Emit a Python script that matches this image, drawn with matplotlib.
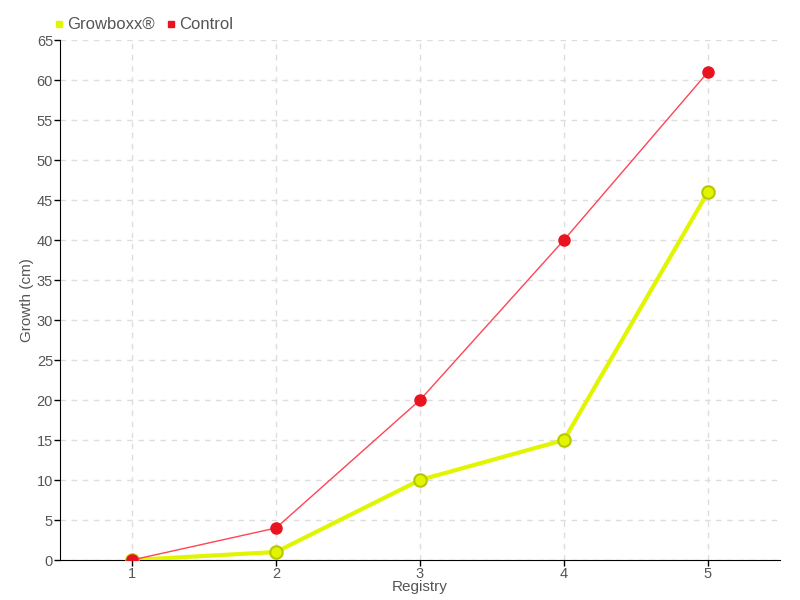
import matplotlib.pyplot as plt
from matplotlib.lines import Line2D

registry = [1, 2, 3, 4, 5]
growboxx = [0, 1, 10, 15, 46]
control = [0, 4, 20, 40, 61]
series_names = ["Growboxx®", "Control"]

plt.rcParams['font.family'] = ['Liberation Sans', 'DejaVu Sans']
txt = '#555555'

fig = plt.figure(figsize=(8, 6), dpi=100)
ax = fig.add_axes([60 / 800, 40 / 600, 720 / 800, 520 / 600])

ax.plot(registry, growboxx, color='#e2f500', lw=3, marker='o', ms=9,
        mfc='#e2f500', mec='#b8c800', mew=1.5, zorder=3)
ax.plot(registry, control, color='#ff4455', lw=1, marker='o', ms=8,
        mfc='#e8141f', mec='#e8141f', zorder=4)

ax.set_xlim(0.5, 5.5)
ax.set_ylim(0, 65)
ax.set_xticks(registry)
ax.set_yticks(range(0, 66, 5))
ax.grid(True, color='#dddddd', ls=(0, (4, 4)), lw=1)
ax.set_axisbelow(True)
for s in ['top', 'right']:
    ax.spines[s].set_visible(False)
ax.spines['left'].set_color('black')
ax.spines['bottom'].set_color('black')
ax.tick_params(labelcolor=txt, labelsize=10.5, length=4, width=1, color='black', pad=1)
ax.set_xlabel('Registry', color=txt, fontsize=11, labelpad=-1)
ax.set_ylabel('Growth (cm)', color=txt, fontsize=11, labelpad=2)

handles = [Line2D([], [], ls='none', marker='s', ms=5, color='#e2f500'),
           Line2D([], [], ls='none', marker='s', ms=5, color='#e8141f')]
fig.legend(handles, series_names, loc='upper left', bbox_to_anchor=(42 / 800, 1 - 9 / 600),
           ncol=2, frameon=False, fontsize=12, handletextpad=0.0, columnspacing=0.5,
           labelcolor=txt, handlelength=1.0, borderpad=0)

fig.savefig('out.png', dpi=100)
